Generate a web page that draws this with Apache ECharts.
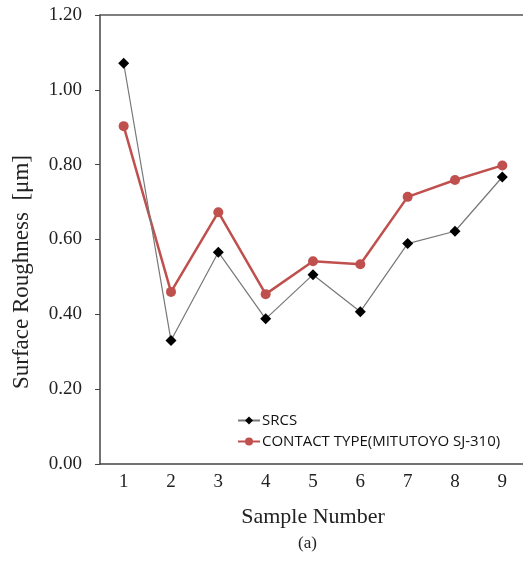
<!DOCTYPE html>
<html>
<head>
<meta charset="utf-8">
<script src="https://cdn.jsdelivr.net/npm/echarts@6/dist/echarts.min.js"></script>
<style>html,body{margin:0;padding:0;background:#fff;overflow:hidden}#c{width:523px;height:561px}</style>
</head>
<body>
<div id="c"></div>
<script>
var categories = ['1','2','3','4','5','6','7','8','9'];
var srcs = [1.071, 0.330, 0.566, 0.388, 0.506, 0.407, 0.589, 0.622, 0.767];
var contact = [0.903, 0.460, 0.673, 0.454, 0.542, 0.534, 0.714, 0.759, 0.798];
var seriesNames = ['SRCS', 'CONTACT TYPE(MITUTOYO SJ-310)'];
var yTitle = 'Surface Roughness  [μm]';

var chart = echarts.init(document.getElementById('c'));
var serif = 'Liberation Serif';
chart.setOption({
  animation: false,
  backgroundColor: '#fff',
  grid: {left: 100, top: 15, width: 426, height: 449, show: false, containLabel: false, outerBoundsMode: 'none'},
  legend: {
    orient: 'vertical', left: 232, top: 408, itemGap: 6, itemWidth: 22, itemHeight: 10,
    textStyle: {fontFamily: 'Open Sans', fontSize: 15, color: '#111', padding: [0,0,0,-3]},
    data: seriesNames
  },
  xAxis: [{
    type: 'category', data: categories, boundaryGap: true,
    axisLine: {lineStyle: {color: '#444', width: 1.5}},
    axisTick: {inside: true, length: 5, lineStyle: {color: '#444'}},
    axisLabel: {fontFamily: serif, fontSize: 19, color: '#222', margin: 9},
    name: 'Sample Number', nameLocation: 'middle', nameGap: 42,
    nameTextStyle: {fontFamily: serif, fontSize: 22, color: '#222'}
  }, {
    type: 'category', data: categories, position: 'top',
    axisLine: {show: true, lineStyle: {color: '#555', width: 1.5}},
    axisTick: {show: false}, axisLabel: {show: false}
  }],
  yAxis: {
    type: 'value', min: 0, max: 1.2, interval: 0.2,
    splitLine: {show: false},
    axisLine: {show: true, lineStyle: {color: '#444', width: 1.5}},
    axisTick: {show: true, length: 5, lineStyle: {color: '#444'}},
    axisLabel: {fontFamily: serif, fontSize: 19, color: '#222', margin: 18, formatter: function(v){return v.toFixed(2);}}
  },
  graphic: [
    {type: 'rect', x: 515, y: 17, z: 100, shape: {width: 10, height: 445}, style: {fill: '#fff'}},
    {type: 'text', x: 22, y: 272, rotation: Math.PI / 2,
     style: {text: yTitle, font: '23px "Liberation Serif"', fill: '#222', align: 'center', verticalAlign: 'middle'}},
    {type: 'text', left: 298, top: 535, style: {text: '(a)', font: '17px "Liberation Serif"', fill: '#222'}}
  ],
  series: [
    {name: seriesNames[0], type: 'line', data: srcs, symbol: 'diamond', symbolSize: 11,
     itemStyle: {color: '#000'}, lineStyle: {color: '#777', width: 1.2}, z: 3},
    {name: seriesNames[1], type: 'line', data: contact, symbol: 'circle', symbolSize: 10,
     itemStyle: {color: '#C0504D'}, lineStyle: {color: '#C0504D', width: 2.5}, z: 2}
  ]
});
</script>
</body>
</html>
